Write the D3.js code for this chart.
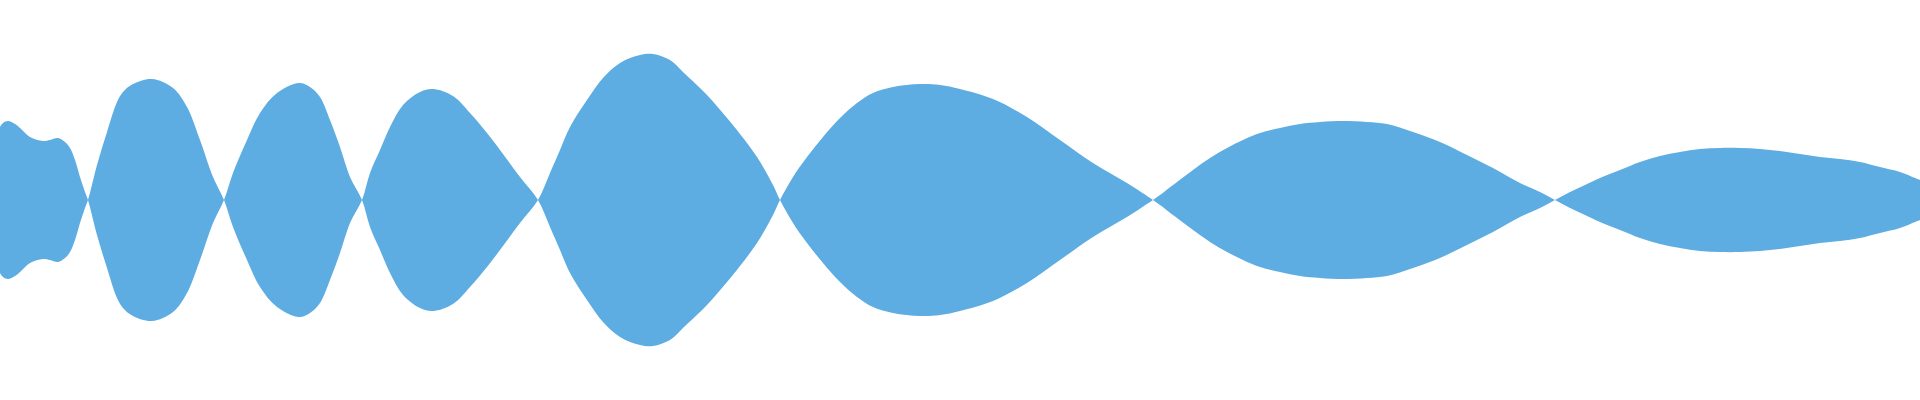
<!DOCTYPE html>
<html>
<head>
<meta charset="utf-8">
<script src="https://cdn.jsdelivr.net/npm/d3@7"></script>
<style>
  html, body { margin: 0; padding: 0; background: #ffffff; }
  svg { display: block; }
</style>
</head>
<body>
<svg id="chart" width="1920" height="400"></svg>
<script>
// Sample positions (time axis) and signed amplitudes
const times = [
  0, 3, 8, 15, 20, 30, 43, 50, 58, 65, 70, 75, 80, 85, 88,
  97, 107, 117, 123, 133, 152, 173, 187, 200, 213, 224,
  233, 247, 260, 277, 299, 310, 320, 330, 340, 350, 362,
  370, 380, 390, 403, 420, 433, 453, 470, 487, 503, 520, 538,
  550, 560, 570, 587, 603, 620, 640, 653, 670, 683, 707, 727, 740, 757, 773, 780,
  793, 807, 823, 840, 857, 873, 893, 920, 940, 960, 993, 1027, 1060, 1093, 1127, 1153,
  1160, 1177, 1193, 1210, 1227, 1243, 1260, 1280, 1300, 1320, 1343, 1367, 1387, 1413, 1440, 1467, 1493, 1520, 1540, 1555,
  1570, 1587, 1600, 1620, 1640, 1660, 1680, 1700, 1720, 1740, 1760, 1780, 1800, 1820, 1840, 1860, 1880, 1900, 1915, 1920
];
const amplitudes = [
  73, 77, 79, 76, 72, 63, 59, 60, 62, 58, 52, 40, 23, 8, 0,
  -35, -68, -98, -108, -116, -121, -112, -93, -60, -23, 0,
  27, 60, 87, 107, 117, 113, 103, 80, 53, 23, 0,
  -27, -50, -73, -95, -108, -111, -104, -87, -67, -46, -23, 0,
  27, 50, 73, 100, 122, 137, 145, 146, 140, 128, 105, 82, 66, 43, 15, 0,
  -23, -43, -63, -82, -97, -107, -113, -116, -115, -111, -101, -83, -60, -37, -17, 0,
  5, 18, 30, 42, 52, 60, 67, 72, 76, 78, 79, 78, 76, 68, 58, 45, 32, 17, 8, 0,
  -8, -16, -22, -30, -38, -44, -48, -51, -52, -52, -51, -49, -46, -43, -41, -38, -33, -28, -22, -20
];

const fillColor = "#5dade2";
const W = 1920, H = 400;

const data = times.map((t, i) => ({ t, v: amplitudes[i] }));

const x = d3.scaleLinear().domain([0, 1920]).range([0, W]);
const y = d3.scaleLinear().domain([-200, 200]).range([H, 0]);

const area = d3.area()
  .x(d => x(d.t))
  .y0(d => y(-d.v))
  .y1(d => y(d.v))
  .curve(d3.curveCatmullRom.alpha(0.5));

d3.select("#chart")
  .append("path")
  .datum(data)
  .attr("d", area)
  .attr("fill", fillColor)
  .attr("stroke", "none");
</script>
</body>
</html>
